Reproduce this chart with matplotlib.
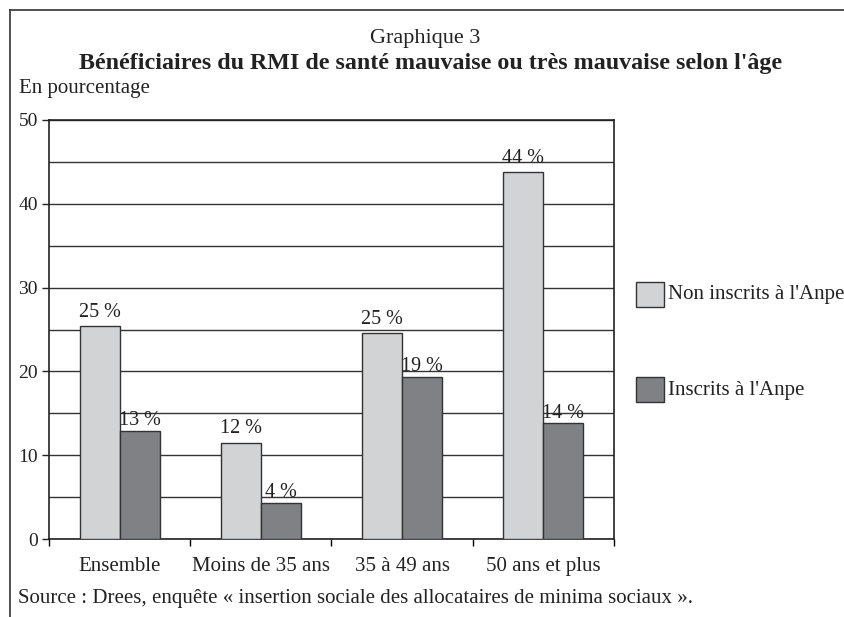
import numpy as np
import matplotlib.pyplot as plt
from matplotlib.patches import Rectangle
from matplotlib.lines import Line2D

categories = ['Ensemble', 'Moins de 35 ans', '35 à 49 ans', '50 ans et plus']
non_inscrits = [25.4, 11.5, 24.6, 43.8]
inscrits = [12.9, 4.3, 19.3, 13.8]
labels_non = ['25 %', '12 %', '25 %', '44 %']
labels_ins = ['13 %', '4 %', '19 %', '14 %']
series_names = ["Non inscrits à l'Anpe", "Inscrits à l'Anpe"]

light = '#d2d3d5'
dark = '#808184'
edge = '#333333'
txt = '#222222'

W, H = 844, 617


def fx(px):
    return px / W


def fy(py):
    return 1 - py / H


plt.rcParams['font.family'] = ['Liberation Serif', 'DejaVu Serif']

fig = plt.figure(figsize=(W / 100, H / 100), dpi=100)
ax = fig.add_axes([fx(49), fy(539), (614 - 49) / W, (539 - 120) / H])

x = np.arange(len(categories))
w = 0.283
b1 = ax.bar(x - w / 2, non_inscrits, w, color=light, edgecolor=edge, linewidth=1, zorder=3)
b2 = ax.bar(x + w / 2, inscrits, w, color=dark, edgecolor=edge, linewidth=1, zorder=3)

for rect, lab in zip(b1, labels_non):
    ax.text(rect.get_x() + rect.get_width() / 2, rect.get_height() + 0.5, lab,
            ha='center', va='bottom', fontsize=14.5, color=txt, zorder=4)
for rect, lab in zip(b2, labels_ins):
    ax.text(rect.get_x() + rect.get_width() / 2, rect.get_height() + 0.1, lab,
            ha='center', va='bottom', fontsize=14.5, color=txt, zorder=4)

ax.set_xlim(-0.5, len(categories) - 0.5)
ax.set_ylim(0, 50)
ax.set_yticks([0, 10, 20, 30, 40, 50])
ax.set_yticks(np.arange(0, 51, 5), minor=True)
ax.yaxis.grid(True, which='both', color='#333333', linewidth=1)
ax.set_axisbelow(True)
ax.tick_params(axis='y', which='major', length=5, width=1, direction='out',
               labelsize=14, pad=3, colors=txt)
ax.tick_params(axis='y', which='minor', length=0)

ax.set_xticks(np.arange(-0.5, len(categories), 1))
ax.set_xticklabels([])
ax.set_xticks(x, minor=True)
ax.set_xticklabels(categories, minor=True)
ax.tick_params(axis='x', which='major', length=5, width=1, direction='out')
ax.tick_params(axis='x', which='minor', length=0, pad=13, labelsize=15, colors=txt)

for s in ax.spines.values():
    s.set_linewidth(1.2)
    s.set_color(txt)

# outer frame (left and top only)
fig.add_artist(Line2D([fx(10), fx(10)], [0, fy(10)], color='#333333', linewidth=1.2))
fig.add_artist(Line2D([fx(10), 1], [fy(10), fy(10)], color='#333333', linewidth=1.2))

fig.text(fx(425), fy(38), 'Graphique 3', ha='center', va='center', fontsize=16, color=txt)
fig.text(fx(431), fy(63), "Bénéficiaires du RMI de santé mauvaise ou très mauvaise selon l'âge",
         ha='center', va='center', fontsize=17.3, fontweight='bold', color=txt)
fig.text(fx(19), fy(89), 'En pourcentage', ha='left', va='center', fontsize=15, color=txt)
fig.text(fx(18), fy(599),
         'Source : Drees, enquête « insertion sociale des allocataires de minima sociaux ».',
         ha='left', va='center', fontsize=15, color=txt)

# legend
for (top, color, name) in [(282, light, series_names[0]), (377, dark, series_names[1])]:
    fig.add_artist(Rectangle((fx(636), fy(top + 25)), 28 / W, 25 / H, transform=fig.transFigure,
                             facecolor=color, edgecolor=edge, linewidth=1))
    fig.text(fx(668), fy(top + 13), name, ha='left', va='center', fontsize=15, color=txt)

fig.savefig('out.png', dpi=100)
